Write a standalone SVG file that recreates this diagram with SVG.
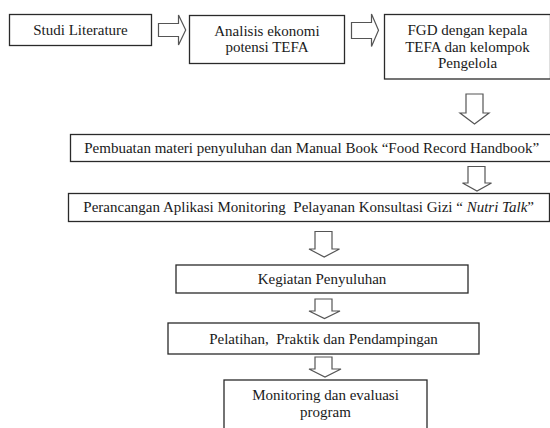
<svg xmlns="http://www.w3.org/2000/svg" width="550" height="428" viewBox="0 0 550 428">
<style>
.box{fill:#fff;stroke:#2a2a2a;stroke-width:1.3}
.arr{fill:#fff;stroke:#555;stroke-width:1.2;stroke-linejoin:miter}
text{font-family:"Liberation Serif","Times New Roman",serif;font-size:15px;fill:#1a1a1a;text-anchor:middle;white-space:pre}
</style>
<rect width="550" height="428" fill="#fff"/>
<g id="connectors">
<polygon class="arr" points="158.5,23.5 178.5,23.5 178.5,15 185.7,30 178.5,45 178.5,36.5 158.5,36.5"/>
<polygon class="arr" points="351.5,22.5 371.5,22.5 371.5,14 378.5,30.3 371.5,46.5 371.5,38.5 351.5,38.5"/>
<polygon class="arr" points="466,94 483,94 483,113 489,113 474.5,124 460,113 466,113"/>
<polygon class="arr" points="468,166.5 485,166.5 485,183 491.5,183 477,191 462.5,183 468,183"/>
<polygon class="arr" points="315,231.5 332,231.5 332,249 339.5,249 324.2,257 309,249 315,249"/>
<polygon class="arr" points="315,299 332,299 332,311 340,311 324.5,318.5 309,311 315,311"/>
<polygon class="arr" points="315,357 332,357 332,369 341,369 325,377 309,369 315,369"/>
</g>
<g id="n1"><rect class="box" x="9.5" y="14.5" width="142" height="31"/><text x="80.5" y="34.5">Studi Literature</text></g>
<g id="n2"><rect class="box" x="189.5" y="15.5" width="155" height="48"/><text x="267" y="36">Analisis ekonomi</text><text x="267" y="52">potensi TEFA</text></g>
<g id="n3"><rect class="box" x="384.5" y="14.5" width="166" height="64.5"/><text x="467.5" y="35">FGD dengan kepala</text><text x="467.5" y="51.5">TEFA dan kelompok</text><text x="467.5" y="68">Pengelola</text></g>
<g id="n4"><rect class="box" x="70.5" y="134.5" width="482" height="27"/><text x="311.7" y="152.5">Pembuatan materi penyuluhan dan Manual Book “Food Record Handbook”</text></g>
<g id="n5"><rect class="box" x="68.5" y="193.5" width="481" height="28"/><text x="308.7" y="212" xml:space="preserve">Perancangan Aplikasi Monitoring  Pelayanan Konsultasi Gizi “ <tspan font-style="italic">Nutri Talk</tspan>”</text></g>
<g id="n6"><rect class="box" x="176" y="265" width="292" height="28"/><text x="322" y="284">Kegiatan Penyuluhan</text></g>
<g id="n7"><rect class="box" x="168" y="323" width="311" height="31"/><text x="323.5" y="343.5" xml:space="preserve">Pelatihan,  Praktik dan Pendampingan</text></g>
<g id="n8"><rect class="box" x="224" y="380" width="203" height="60"/><text x="325.5" y="400">Monitoring dan evaluasi</text><text x="325.5" y="417">program</text></g>
</svg>
